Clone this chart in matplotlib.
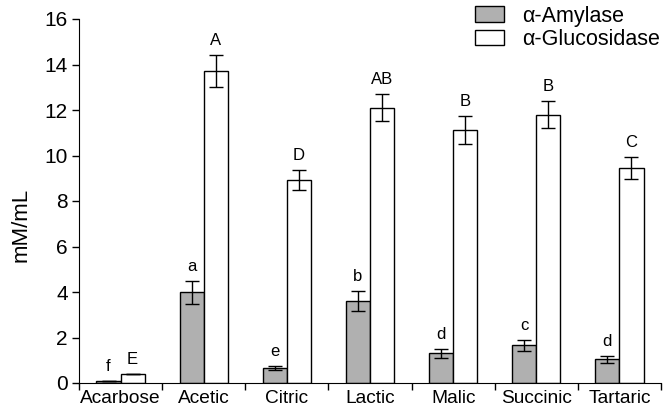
import matplotlib.pyplot as plt
import numpy as np

plt.rcParams['font.family'] = ['Liberation Sans', 'DejaVu Sans']

categories = ['Acarbose', 'Acetic', 'Citric', 'Lactic', 'Malic', 'Succinic', 'Tartaric']
amylase = [0.08, 3.98, 0.65, 3.6, 1.3, 1.65, 1.05]
amylase_err = [0.0, 0.5, 0.08, 0.45, 0.2, 0.25, 0.15]
amylase_letters = ['f', 'a', 'e', 'b', 'd', 'c', 'd']
glucosidase = [0.38, 13.72, 8.93, 12.1, 11.12, 11.8, 9.45]
glucosidase_err = [0.0, 0.7, 0.45, 0.6, 0.6, 0.6, 0.5]
glucosidase_letters = ['E', 'A', 'D', 'AB', 'B', 'B', 'C']

fig = plt.figure(figsize=(6.63, 4.13), dpi=100)
ax = fig.add_axes([79/663, 1 - 383/413, 582/663, 364/413])

x = np.arange(len(categories))
w = 0.29
ax.bar(x - w/2, amylase, w, color='#b0b0b0', edgecolor='black', linewidth=1.0,
       yerr=amylase_err, capsize=5, error_kw=dict(elinewidth=1.0, capthick=1.0),
       label='\u03b1-Amylase')
ax.bar(x + w/2, glucosidase, w, color='white', edgecolor='black', linewidth=1.0,
       yerr=glucosidase_err, capsize=5, error_kw=dict(elinewidth=1.0, capthick=1.0),
       label='\u03b1-Glucosidase')

for i in range(len(categories)):
    ax.annotate(amylase_letters[i], (x[i] - w/2, amylase[i] + amylase_err[i]),
                xytext=(0, 5), textcoords='offset points', ha='center', va='bottom', fontsize=12)
    ax.annotate(glucosidase_letters[i], (x[i] + w/2, glucosidase[i] + glucosidase_err[i]),
                xytext=(0, 5), textcoords='offset points', ha='center', va='bottom', fontsize=12)

ax.set_xlim(-0.5, len(categories) - 0.5)
ax.set_ylim(0, 16)
ax.set_yticks(range(0, 17, 2))
ax.set_xticks(np.arange(-0.5, len(categories), 1.0))
ax.set_xticklabels([])
ax.set_xticks(x, minor=True)
ax.set_xticklabels(categories, minor=True)
ax.tick_params(axis='x', which='major', direction='out', length=5, width=1)
ax.tick_params(axis='x', which='minor', length=0, labelsize=13.8, pad=5)
ax.tick_params(axis='y', direction='out', length=5, width=1, labelsize=15, pad=3)
ax.spines['top'].set_visible(False)
ax.spines['right'].set_visible(False)
ax.set_ylabel('mM/mL', fontsize=16)
ax.yaxis.set_label_coords(-0.082, 0.434)

ax.legend(loc='upper right', bbox_to_anchor=(0.998, 1.037), frameon=False, fontsize=15.5,
          borderpad=0, borderaxespad=0, handlelength=1.35, handleheight=0.7,
          handletextpad=0.85, labelspacing=0.12)

plt.savefig('out.png', dpi=100)
